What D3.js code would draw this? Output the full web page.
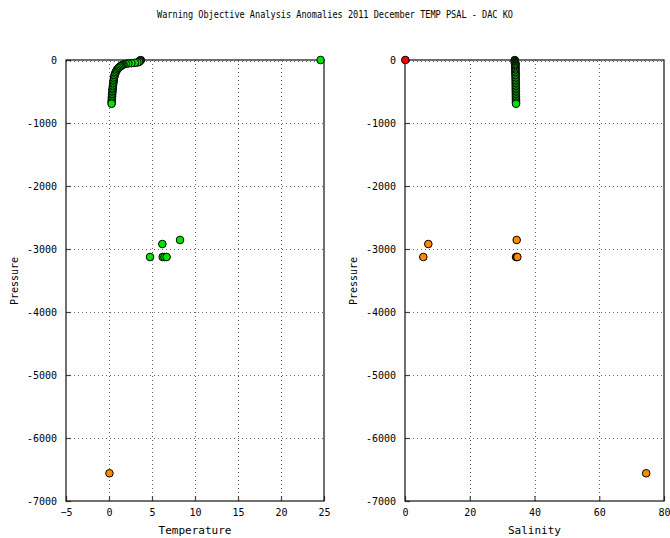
<!DOCTYPE html>
<html><head><meta charset="utf-8">
<script src="https://cdn.jsdelivr.net/npm/d3@7"></script>
<style>body{margin:0;background:#fff}svg{display:block}text{font-family:"DejaVu Sans Mono",monospace;fill:#000}</style>
</head><body>
<script>
// ---- data (pressures as plotted, negative) ----
const profilePres = [-2,-10,-20,-30,-40,-45,-50,-55,-60,-70,-80,-90,-100,-115,-130,-150,-170,-190,-210,-230,-250,-275,-300,-325,-350,-375,-400,-425,-450,-475,-500,-525,-550,-575,-600,-625,-650,-675,-695];
const profileTemp = [3.7,3.6,3.55,3.5,3.3,3.0,2.6,2.25,1.95,1.7,1.55,1.42,1.32,1.2,1.08,0.96,0.87,0.79,0.73,0.68,0.64,0.6,0.57,0.54,0.51,0.49,0.47,0.45,0.43,0.41,0.39,0.38,0.36,0.35,0.34,0.33,0.32,0.31,0.3];
const profilePsal = [33.9,33.92,33.95,33.97,33.98,34.0,34.0,34.02,34.03,34.05,34.06,34.07,34.08,34.09,34.1,34.11,34.12,34.13,34.14,34.15,34.16,34.17,34.18,34.19,34.2,34.2,34.21,34.22,34.22,34.23,34.24,34.24,34.25,34.26,34.26,34.27,34.28,34.28,34.3];
const profileFlag = [0,1,1,1,1,1,1,1,1,1,1,1,1,1,1,1,1,1,1,1,1,1,1,1,1,1,1,1,1,1,1,1,1,1,1,1,1,1,1];

const extraPres = [0,-2857,-2921,-3127,-3127,-3127,-3127,-6560];
const extraTemp = [24.6,8.26,6.2,4.77,6.24,6.45,6.7,0.05];
const extraPsal = [0.1,34.5,7.2,5.65,34.3,34.5,34.7,74.5];
const extraTempFlag = [1,1,1,1,1,1,1,3];
const extraPsalFlag = [4,3,3,3,3,3,3,3];

const flagColors = {0:"#000000",1:"#00e400",3:"#ff8a00",4:"#ff0000"};

const pressureTicks = [0,-1000,-2000,-3000,-4000,-5000,-6000,-7000];
const tempTicks = [-5,0,5,10,15,20,25];
const psalTicks = [0,20,40,60,80];
const title = "Warning Objective Analysis Anomalies 2011 December TEMP PSAL - DAC KO";

// ---- drawing ----
const W=670,H=538;
const svg = d3.select("body").append("svg").attr("width",W).attr("height",H);

svg.append("text").attr("x",335).attr("y",18).attr("text-anchor","middle")
  .attr("font-size",10).attr("textLength",356).attr("lengthAdjust","spacingAndGlyphs").text(title);

const y = d3.scaleLinear().domain([-7000,0]).range([501,60]);

function panel(xr, domain, ticks, label, xs, ys, flags, xs2, ys2, flags2){
  const x = d3.scaleLinear().domain(domain).range(xr);
  const g = svg.append("g");
  // grid
  g.selectAll(".gx").data(ticks.filter(t=>t!==domain[0]&&t!==domain[1])).join("line")
    .attr("x1",d=>Math.round(x(d))+0.5).attr("x2",d=>Math.round(x(d))+0.5)
    .attr("y1",60).attr("y2",501).attr("stroke","#666").attr("stroke-dasharray","1,3");
  g.selectAll(".gy").data(pressureTicks.filter(t=>t!==-7000)).join("line")
    .attr("x1",xr[0]).attr("x2",xr[1])
    .attr("y1",d=>Math.round(y(d))+(d===0?1.5:0.5)).attr("y2",d=>Math.round(y(d))+(d===0?1.5:0.5))
    .attr("stroke","#666").attr("stroke-dasharray","1,3");
  // axes
  const xa = g.append("g").attr("transform","translate(0,501)")
    .call(d3.axisBottom(x).tickValues(ticks).tickSize(-5).tickPadding(8).tickFormat(d3.format("d")));
  const ya = g.append("g").attr("transform",`translate(${xr[0]},0)`)
    .call(d3.axisLeft(y).tickValues(pressureTicks).tickSize(-5).tickPadding(9).tickFormat(d=>String(d)));
  [xa,ya].forEach(a=>{
    a.select(".domain").remove();
    a.selectAll(".tick line").attr("stroke","#444").attr("stroke-width",1.2);
    a.selectAll(".tick text").attr("font-size",10).attr("font-family","DejaVu Sans Mono, monospace");
  });
  // frame
  g.append("rect").attr("x",xr[0]).attr("y",60).attr("width",xr[1]-xr[0]).attr("height",441)
    .attr("fill","none").attr("stroke","#111").attr("stroke-width",1.2);
  // labels
  g.append("text").attr("x",(xr[0]+xr[1])/2).attr("y",534).attr("text-anchor","middle")
    .attr("font-size",11).text(label);
  g.append("text").attr("transform",`translate(${xr[0]-48},281) rotate(-90)`).attr("text-anchor","middle")
    .attr("font-size",10).text("Pressure");
  // points
  const pts = xs.map((v,i)=>({x:v,y:ys[i],f:flags[i]}))
    .concat(xs2.map((v,i)=>({x:v,y:ys2[i],f:flags2[i]})));
  g.selectAll("circle").data(pts).join("circle")
    .attr("cx",d=>x(d.x)).attr("cy",d=>y(d.y)).attr("r",3.8)
    .attr("fill",d=>flagColors[d.f]).attr("stroke","#000").attr("stroke-width",1);
}

panel([66,324],[-5,25],tempTicks,"Temperature",profileTemp,profilePres,profileFlag,extraTemp,extraPres,extraTempFlag);
panel([405,664],[0,80],psalTicks,"Salinity",profilePsal,profilePres,profileFlag,extraPsal,extraPres,extraPsalFlag);
</script>
</body></html>
